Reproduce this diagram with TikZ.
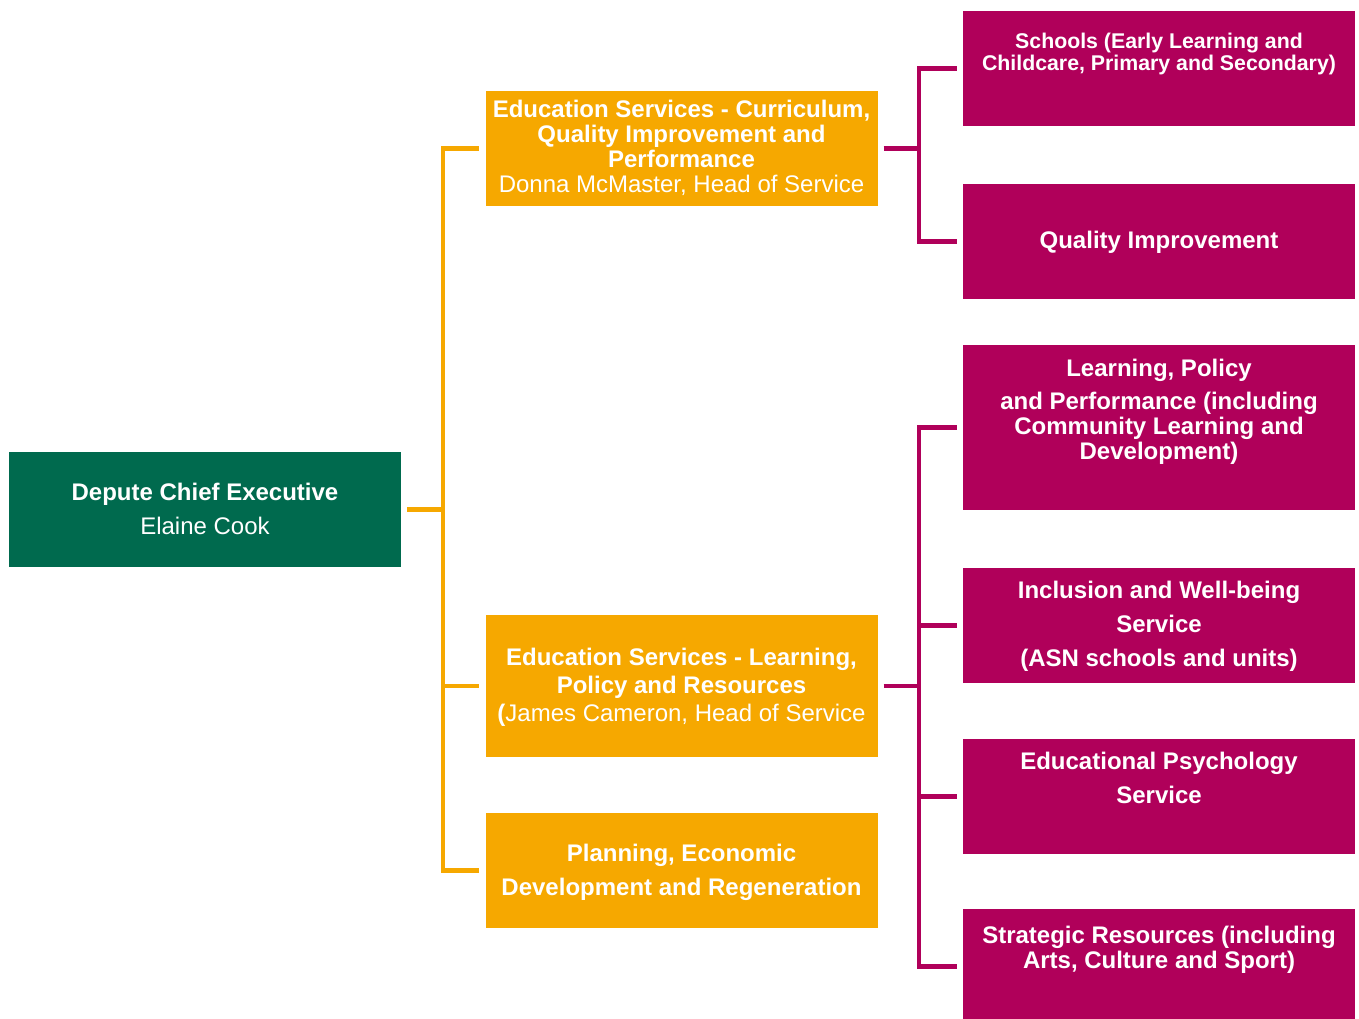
\documentclass[tikz,border=0pt]{standalone}
\usepackage{fontspec}
\setmainfont{Liberation Sans}
\definecolor{dgreen}{RGB}{0,106,78}
\definecolor{gold}{RGB}{246,168,0}
\definecolor{plum}{RGB}{176,0,90}
\begin{document}
\begin{tikzpicture}[x=1pt,y=-1pt,
  box/.style={draw=none, inner sep=0pt, minimum width=392pt, minimum height=115pt},
  gbox/.style={box, fill=dgreen},
  obox/.style={box, fill=gold},
  mbox/.style={box, fill=plum},
  txt/.style={text=white, align=center, inner sep=0pt, anchor=base, font=\fontsize{24}{34}\selectfont},
  oline/.style={draw=gold, line width=4.5pt},
  mline/.style={draw=plum, line width=4.5pt},
]
\useasboundingbox (0,0) rectangle (1359,1019);
\clip (0,0) rectangle (1359,1019);

% boxes
\node[gbox] (ceo) at (205,509.5) {};
\node[obox] (o1) at (681.5,148.5) {};
\node[obox, minimum height=142pt] (o2) at (681.5,686) {};
\node[obox] (o3) at (681.5,870.5) {};
\node[mbox] (m1) at (1159,68.5) {};
\node[mbox] (m2) at (1159,241.5) {};
\node[mbox, minimum height=165pt] (m3) at (1159,427.5) {};
\node[mbox] (m4) at (1159,625.5) {};
\node[mbox] (m5) at (1159,796.5) {};
\node[mbox] (m6) at (1159,966.5) {};

% texts (positioned at the baseline of their last line)
\node[txt] (ceot) at (205,534.3) {\textbf{Depute Chief Executive}\\Elaine Cook};
\node[txt, font=\fontsize{24}{25}\selectfont] (o1t) at (681.5,192.5) {\textbf{Education Services - Curriculum,}\\\textbf{Quality Improvement and}\\\textbf{Performance}\\Donna McMaster, Head of Service};
\node[txt, font=\fontsize{24}{28}\selectfont] (o2t) at (681.5,721) {\textbf{Education Services - Learning,}\\\textbf{Policy and Resources}\\\textbf{(}James Cameron, Head of Service};
\node[txt] (o3t) at (681.5,895) {\textbf{Planning, Economic}\\\textbf{Development and Regeneration}};
\node[txt, font=\bfseries\fontsize{21.3}{22}\selectfont] (m1t) at (1159,70.5) {Schools (Early Learning and\\Childcare, Primary and Secondary)};
\node[txt, font=\bfseries\fontsize{24}{25}\selectfont] (m2t) at (1159,248.7) {Quality Improvement};
\node[txt, font=\bfseries\fontsize{24}{25}\selectfont] (m3t) at (1159,459.3) {Learning, Policy\\[8pt]and Performance (including\\Community Learning and\\Development)};
\node[txt, font=\bfseries\fontsize{24}{34}\selectfont] (m4t) at (1159,666.7) {Inclusion and Well-being\\Service\\(ASN schools and units)};
\node[txt, font=\bfseries\fontsize{24}{34}\selectfont] (m5t) at (1159,803.3) {Educational Psychology\\Service};
\node[txt, font=\bfseries\fontsize{24}{24.5}\selectfont] (m6t) at (1159,968.3) {Strategic Resources (including\\Arts, Culture and Sport)};

% connector buses
\coordinate (bus) at (443,0);
\coordinate (mbus) at (919,0);

\draw[oline, shorten <=6pt] (ceo.east) -- (ceo.east -| bus);
\draw[oline, shorten >=6pt] (ceo.east -| bus) |- (o1.west);
\draw[oline, shorten >=6pt] (ceo.east -| bus) |- (o2.west);
\draw[oline, shorten >=6pt] (ceo.east -| bus) |- (o3.west);

\draw[mline, shorten <=6pt] (o1.east) -- (o1.east -| mbus);
\draw[mline, shorten >=6pt] (o1.east -| mbus) |- (m1.west);
\draw[mline, shorten >=6pt] (o1.east -| mbus) |- (m2.west);

\draw[mline, shorten <=6pt] (o2.east) -- (o2.east -| mbus);
\draw[mline, shorten >=6pt] (o2.east -| mbus) |- (m3.west);
\draw[mline, shorten >=6pt] (o2.east -| mbus) |- (m4.west);
\draw[mline, shorten >=6pt] (o2.east -| mbus) |- (m5.west);
\draw[mline, shorten >=6pt] (o2.east -| mbus) |- (m6.west);
\end{tikzpicture}
\end{document}
